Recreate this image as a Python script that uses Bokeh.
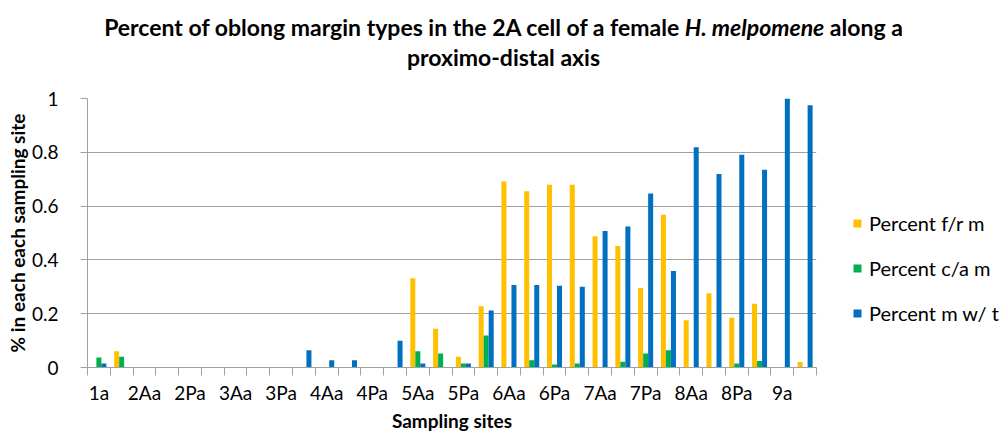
from bokeh.plotting import figure
from bokeh.models import (FixedTicker, CustomJSTickFormatter, Legend, LegendItem,
                          ColumnDataSource, Div)
from bokeh.layouts import column
from bokeh.embed import file_html
from bokeh.resources import INLINE
import numpy as np

# ---------------- data ----------------
sites = ["1a", "1p", "2Aa", "2Ap", "2Pa", "2Pp", "3Aa", "3Ap", "3Pa", "3Pp",
         "4Aa", "4Ap", "4Pa", "4Pp", "5Aa", "5Ap", "5Pa", "5Pp", "6Aa", "6Ap",
         "6Pa", "6Pp", "7Aa", "7Ap", "7Pa", "7Pp", "8Aa", "8Ap", "8Pa", "8Pp",
         "9a", "9p"]
shown_labels = ["1a", "2Aa", "2Pa", "3Aa", "3Pa", "4Aa", "4Pa", "5Aa", "5Pa",
                "6Aa", "6Pa", "7Aa", "7Pa", "8Aa", "8Pa", "9a"]

pct_fr_m = [0, 0.06, 0, 0, 0, 0, 0, 0, 0, 0,
            0, 0, 0, 0, 0.332, 0.144, 0.04, 0.228, 0.691, 0.655,
            0.679, 0.679, 0.488, 0.452, 0.296, 0.568, 0.176, 0.276, 0.185, 0.237,
            0, 0.02]
pct_ca_m = [0.037, 0.04, 0, 0, 0, 0, 0, 0, 0, 0,
            0, 0, 0, 0, 0.06, 0.052, 0.015, 0.119, 0, 0.027,
            0.011, 0.015, 0, 0.021, 0.052, 0.064, 0, 0, 0.015, 0.024,
            0, 0]
pct_m_wt = [0.015, 0, 0, 0, 0, 0, 0, 0, 0, 0.064,
            0.027, 0.027, 0, 0.099, 0.015, 0, 0.015, 0.212, 0.307, 0.307,
            0.304, 0.300, 0.507, 0.524, 0.647, 0.359, 0.819, 0.719, 0.791, 0.735,
            1.0, 0.975]

series_names = ["Percent f/r m", "Percent c/a m", "Percent m w/ t"]
colors = ["#FFC000", "#00B050", "#0070C0"]
y_ticks = [0, 0.2, 0.4, 0.6, 0.8, 1.0]

FONT = "Lato"
n = len(sites)
centers = np.arange(n) + 0.5

p = figure(frame_width=729, frame_height=269, x_range=(0, n), y_range=(0, 1),
           output_backend="svg", toolbar_location=None,
           min_border_left=87, min_border_right=191, min_border_top=10,
           min_border_bottom=5)
p.outline_line_color = None
p.xgrid.grid_line_color = None
p.ygrid.grid_line_color = "#A0A0A0"
p.ygrid.grid_line_width = 1

bw = 0.22
renderers = []
for k, (vals, col) in enumerate(zip([pct_fr_m, pct_ca_m, pct_m_wt], colors)):
    src = ColumnDataSource(dict(x=centers + (k - 1) * bw, top=vals))
    r = p.vbar(x="x", top="top", width=bw, bottom=0, source=src,
               fill_color=col, line_color=None)
    renderers.append(r)

# x axis
xa = p.xaxis[0]
xa.ticker = FixedTicker(ticks=list(centers[::2]), minor_ticks=list(range(n + 1)))
xa.formatter = CustomJSTickFormatter(args=dict(names=sites),
                                     code="return names[Math.floor(tick)];")
xa.major_tick_out = 0
xa.major_tick_in = 0
xa.minor_tick_out = 8
xa.minor_tick_in = 0
xa.minor_tick_line_color = "#A0A0A0"
xa.axis_line_color = "#A0A0A0"
xa.major_label_text_font = FONT
xa.major_label_text_font_size = "19px"
xa.major_label_text_color = "#000000"
xa.major_label_standoff = 5
xa.axis_label = "Sampling sites"
xa.axis_label_text_font = FONT
xa.axis_label_text_font_size = "19px"
xa.axis_label_text_font_style = "bold"
xa.axis_label_text_color = "#000000"
xa.axis_label_standoff = 2

# y axis
ya = p.yaxis[0]
ya.ticker = FixedTicker(ticks=y_ticks)
ya.formatter = CustomJSTickFormatter(code="return tick.toFixed(1).replace(/\\.0$/, '');")
ya.major_tick_out = 7
ya.major_tick_in = 0
ya.minor_tick_out = 0
ya.minor_tick_in = 0
ya.major_tick_line_color = "#A0A0A0"
ya.axis_line_color = "#A0A0A0"
ya.major_label_text_font = FONT
ya.major_label_text_font_size = "19px"
ya.major_label_text_color = "#000000"
ya.major_label_standoff = 22
ya.axis_label = "% in each each sampling site"
ya.axis_label_text_font = FONT
ya.axis_label_text_font_size = "19px"
ya.axis_label_text_font_style = "bold"
ya.axis_label_text_color = "#000000"
ya.axis_label_standoff = 0

# legend
legend = Legend(items=[LegendItem(label=nm, renderers=[r]) for nm, r in zip(series_names, renderers)],
                location=(36, 42), orientation="vertical")
legend.label_text_font = FONT
legend.label_text_font_size = "20px"
legend.label_text_color = "#000000"
legend.glyph_width = 10
legend.glyph_height = 10
legend.label_standoff = 7
legend.label_height = 20
legend.spacing = 21
legend.padding = 0
legend.margin = 0
legend.border_line_alpha = 0
legend.background_fill_alpha = 0
p.add_layout(legend, "right")

# title (bold, with the species name in bold italic)
title = Div(
    text=("Percent of oblong margin types in the 2A cell of a female "
          "<i>H. melpomene</i> along a<br>proximo-distal axis"),
    width=1007, height=88, margin=0,
    styles={"font-family": "Lato", "font-size": "23px", "font-weight": "bold",
            "color": "#000000", "text-align": "center", "line-height": "30px",
            "padding-top": "12px", "box-sizing": "border-box", "width": "1007px"})

layout = column(title, p, spacing=0)
open("out.html", "w").write(file_html(layout, INLINE))
